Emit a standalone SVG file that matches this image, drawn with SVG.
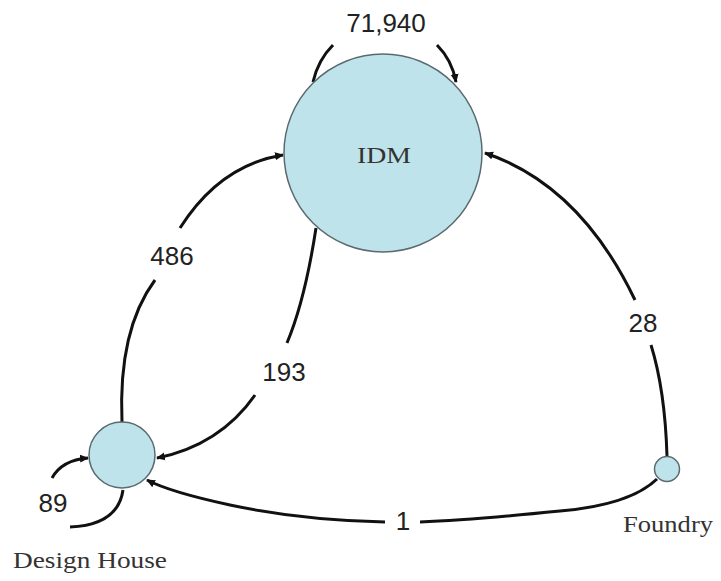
<svg xmlns="http://www.w3.org/2000/svg" width="721" height="581" viewBox="0 0 721 581">
<style>
.node{fill:#bfe3ea;stroke:#5a6a70;stroke-width:1.5}
.edge{fill:none;stroke:#111;stroke-width:3}
.lbl{font-family:"Liberation Sans",Arial,sans-serif;font-size:26px;fill:#222;text-anchor:middle}
.name{font-family:"Liberation Serif","Times New Roman",serif;font-size:24px;fill:#333;text-anchor:middle}
</style>
<defs>
<marker id="arr" markerWidth="10" markerHeight="10" refX="8" refY="5" orient="auto" markerUnits="userSpaceOnUse">
<path d="M0,1 L9,5 L0,9 Z" fill="#111"/>
</marker>
</defs>
<rect width="721" height="581" fill="#fff"/>
<g id="edges">
<path class="edge" d="M313,82 Q318,60 333,45"/>
<path class="edge" d="M437,45 Q452,60 456,82" marker-end="url(#arr)"/>
<path class="edge" d="M122,422 Q118,330 155,280"/>
<path class="edge" d="M180,228 Q220,165 283,155" marker-end="url(#arr)"/>
<path class="edge" d="M316,228 Q305,300 287,343"/>
<path class="edge" d="M255,395 Q220,445 157,458" marker-end="url(#arr)"/>
<path class="edge" d="M667,456 Q665,390 651,345"/>
<path class="edge" d="M635,300 Q580,185 485,153" marker-end="url(#arr)"/>
<path class="edge" d="M657,479 Q630,505 560,511 Q470,520 420,522"/>
<path class="edge" d="M385,522 Q300,520 230,505 Q170,492 147,480" marker-end="url(#arr)"/>
<path class="edge" d="M123,490 Q118,525 70,527"/>
<path class="edge" d="M52,478 Q62,460 88,458" marker-end="url(#arr)"/>
</g>
<g id="idm">
<circle class="node" cx="383" cy="153" r="99"/>
<text class="name" x="384" y="163" textLength="54" lengthAdjust="spacingAndGlyphs">IDM</text>
</g>
<g id="design-house">
<circle class="node" cx="122" cy="455" r="33"/>
<text class="name" x="90" y="568" textLength="154" lengthAdjust="spacingAndGlyphs">Design House</text>
</g>
<g id="foundry">
<circle class="node" cx="667" cy="469" r="12.5"/>
<text class="name" x="668" y="532" textLength="90" lengthAdjust="spacingAndGlyphs">Foundry</text>
</g>
<g id="labels">
<text class="lbl" x="386" y="32">71,940</text>
<text class="lbl" x="172" y="265">486</text>
<text class="lbl" x="284" y="381">193</text>
<text class="lbl" x="643" y="332">28</text>
<text class="lbl" x="403" y="530">1</text>
<text class="lbl" x="53" y="512">89</text>
</g>
</svg>
